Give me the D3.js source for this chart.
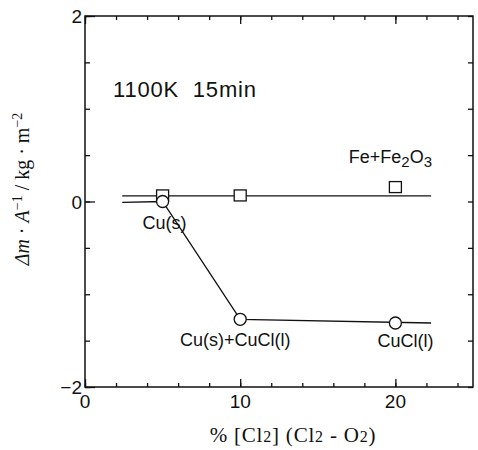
<!DOCTYPE html>
<html>
<head>
<meta charset="utf-8">
<script src="https://cdn.jsdelivr.net/npm/d3@7"></script>
<style>
  body { margin: 0; background: #fff; }
  svg { display: block; }
  .tick-label { font-family: "Liberation Sans", Arial, sans-serif; font-size: 19px; fill: #111; }
  .note { font-family: "Liberation Sans", Arial, sans-serif; font-size: 18px; fill: #111; }
  .serif { font-family: "Liberation Serif", "Times New Roman", serif; fill: #111; }
</style>
</head>
<body>
<svg></svg>
<script>
// values
const xTickLabels = [0, 10, 20];
const yTickLabels = [2, 0, -2];

// Fe + Fe2O3 (squares)
const feX = [5, 10, 20];
const feY = [0.06, 0.06, 0.15];
const feLineX = [2.4, 22.3];
const feLineY = [0.06, 0.06];

// Cu (circles)
const cuX = [5, 10, 20];
const cuY = [0, -1.27, -1.31];
const cuLineX = [2.4, 5, 10, 22.3];
const cuLineY = [-0.01, 0, -1.27, -1.31];

// phase labels next to the points
const cuLabels = ["Cu(s)", "Cu(s)+CuCl(l)", "CuCl(l)"];

const width = 478;
const height = 450;
const margin = {top: 16, right: 5, bottom: 63, left: 85};
const graphWidth = width - margin.left - margin.right;
const graphHeight = height - margin.top - margin.bottom;

const svg = d3.select("svg")
  .attr("width", width)
  .attr("height", height);

const graph = svg.append("g")
  .attr("transform", `translate(${margin.left}, ${margin.top})`);

const xScale = d3.scaleLinear().domain([0, 25]).range([0, graphWidth]);
const yScale = d3.scaleLinear().domain([-2, 2]).range([graphHeight, 0]);

// ticks, all pointing inward, on all four sides
const xMinor = d3.range(0, 25.01, 2);
const yMinor = d3.range(-2, 2.01, 0.5);

const tickStyle = g => g.selectAll("line").attr("stroke", "#111").attr("stroke-width", 1.3);

const xBottom = graph.append("g").attr("transform", `translate(0, ${graphHeight})`);
xBottom.call(d3.axisBottom(xScale).tickValues(xMinor).tickSize(-4).tickFormat(""));
xBottom.append("g").call(d3.axisBottom(xScale).tickValues(xTickLabels).tickSize(-8).tickFormat(""));
const xTop = graph.append("g");
xTop.call(d3.axisTop(xScale).tickValues(xMinor).tickSize(-4).tickFormat(""));
xTop.append("g").call(d3.axisTop(xScale).tickValues(xTickLabels).tickSize(-8).tickFormat(""));

const yLeft = graph.append("g");
yLeft.call(d3.axisLeft(yScale).tickValues(yMinor).tickSize(-5).tickFormat(""));
yLeft.append("g").call(d3.axisLeft(yScale).tickValues(yTickLabels).tickSize(-10).tickFormat(""));
const yRight = graph.append("g").attr("transform", `translate(${graphWidth}, 0)`);
yRight.call(d3.axisRight(yScale).tickValues(yMinor).tickSize(-5).tickFormat(""));

[xBottom, xTop, yLeft, yRight].forEach(g => {
  g.selectAll(".domain").remove();
  tickStyle(g);
});

graph.append("rect")
  .attr("width", graphWidth)
  .attr("height", graphHeight)
  .attr("fill", "none")
  .attr("stroke", "#111")
  .attr("stroke-width", 1.5);

// tick labels
graph.selectAll(".xlab")
  .data(xTickLabels)
  .enter().append("text")
    .attr("class", "tick-label")
    .attr("text-anchor", "middle")
    .attr("x", d => xScale(d))
    .attr("y", graphHeight + 21)
    .text(d => d);

graph.selectAll(".ylab")
  .data(yTickLabels)
  .enter().append("text")
    .attr("class", "tick-label")
    .attr("text-anchor", "end")
    .attr("x", -3)
    .attr("y", d => yScale(d) + 7)
    .text(d => d < 0 ? "\u2212" + Math.abs(d) : d);

// lines
const line = d3.line().x(d => xScale(d[0])).y(d => yScale(d[1]));

graph.append("path")
  .datum(d3.zip(feLineX, feLineY))
  .attr("d", line)
  .attr("fill", "none")
  .attr("stroke", "#111")
  .attr("stroke-width", 1.3);

graph.append("path")
  .datum(d3.zip(cuLineX, cuLineY))
  .attr("d", line)
  .attr("fill", "none")
  .attr("stroke", "#111")
  .attr("stroke-width", 1.3);

// markers
graph.selectAll(".sq")
  .data(d3.zip(feX, feY))
  .enter().append("rect")
    .attr("x", d => xScale(d[0]) - 6)
    .attr("y", d => yScale(d[1]) - 6)
    .attr("width", 12)
    .attr("height", 11)
    .attr("fill", "#fff")
    .attr("stroke", "#111")
    .attr("stroke-width", 1.3);

graph.selectAll(".ci")
  .data(d3.zip(cuX, cuY))
  .enter().append("circle")
    .attr("cx", d => xScale(d[0]))
    .attr("cy", d => yScale(d[1]))
    .attr("r", 6)
    .attr("fill", "#fff")
    .attr("stroke", "#111")
    .attr("stroke-width", 1.3);

// annotations
const labelShift = [[2, 27], [-5, 27], [10, 24]];
graph.selectAll(".cul")
  .data(cuLabels)
  .enter().append("text")
    .attr("class", "note")
    .attr("text-anchor", "middle")
    .attr("x", (d, i) => xScale(cuX[i]) + labelShift[i][0])
    .attr("y", (d, i) => yScale(cuY[i]) + labelShift[i][1])
    .text(d => d);

const fe = graph.append("text")
  .attr("class", "note")
  .attr("text-anchor", "middle")
  .attr("x", xScale(feX[2]) - 5)
  .attr("y", yScale(feY[2]) - 25);
fe.append("tspan").text("Fe+Fe");
fe.append("tspan").attr("dy", 4).style("font-size", "15px").text("2");
fe.append("tspan").attr("dy", -4).text("O");
fe.append("tspan").attr("dy", 4).style("font-size", "15px").text("3");

graph.append("text")
  .attr("class", "note")
  .style("font-size", "22px")
  .style("letter-spacing", "0.8px")
  .attr("x", 28)
  .attr("y", 81)
  .attr("xml:space", "preserve")
  .text("1100K  15min");

// axis titles
const xt = svg.append("text")
  .attr("class", "serif")
  .style("font-size", "21px")
  .style("letter-spacing", "0.8px")
  .attr("text-anchor", "middle")
  .attr("x", 293)
  .attr("y", 442);
xt.append("tspan").text("% [Cl");
xt.append("tspan").style("font-size", "16px").text("2");
xt.append("tspan").text("] (Cl");
xt.append("tspan").style("font-size", "16px").text("2");
xt.append("tspan").text(" - O");
xt.append("tspan").style("font-size", "16px").text("2");
xt.append("tspan").text(")");

const yt = svg.append("text")
  .attr("class", "serif")
  .style("font-size", "20px")
  .attr("text-anchor", "middle")
  .attr("transform", "translate(29, 189) rotate(-90)");
yt.append("tspan").attr("font-style", "italic").text("\u0394m");
yt.append("tspan").text(" \u00b7 ");
yt.append("tspan").attr("font-style", "italic").text("A");
yt.append("tspan").attr("dy", -7).style("font-size", "14px").text("\u22121");
yt.append("tspan").attr("dy", 7).text(" / kg \u00b7 m");
yt.append("tspan").attr("dy", -7).style("font-size", "14px").text("\u22122");
</script>
</body>
</html>
